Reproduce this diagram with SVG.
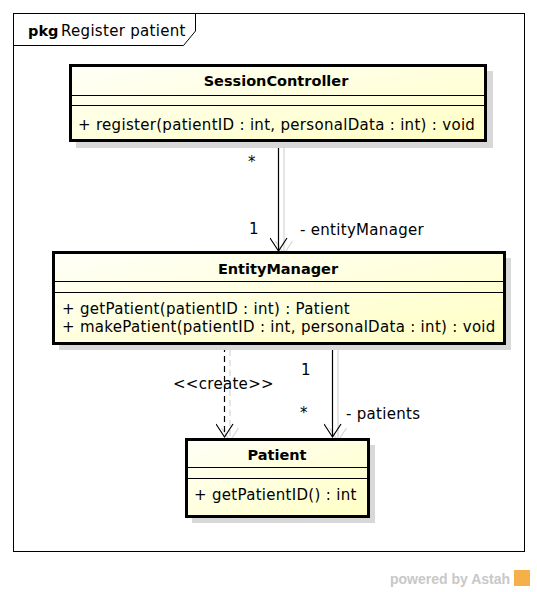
<svg xmlns="http://www.w3.org/2000/svg" width="537" height="592" viewBox="0 0 537 592">
<defs>
<linearGradient id="g" x1="0" y1="0" x2="1" y2="1">
<stop offset="0" stop-color="#fffff8"/>
<stop offset="1" stop-color="#ffffc4"/>
</linearGradient>
<marker id="open" viewBox="0 0 18 18" refX="15" refY="9" markerWidth="18" markerHeight="18" markerUnits="userSpaceOnUse" orient="auto">
<path d="M2,0.5 L15,9 L2,17.5" fill="none" stroke="#000" stroke-width="1.2"/>
</marker>
<marker id="openg" viewBox="0 0 18 18" refX="15" refY="9" markerWidth="18" markerHeight="18" markerUnits="userSpaceOnUse" orient="auto">
<path d="M2,0.5 L15,9 L2,17.5" fill="none" stroke="#d4d4d4" stroke-width="1.2"/>
</marker>
</defs>
<style>
text{font-family:"DejaVu Sans","Liberation Sans",sans-serif;font-size:15px;letter-spacing:0.3px;fill:#000}
.b{font-weight:bold;font-size:14.5px;letter-spacing:0}
.box{fill:url(#g);stroke:#000;stroke-width:3}
.sh{fill:#d8d8d8}
.ln{stroke:#000;stroke-width:1}
.ed{stroke:#000;stroke-width:1.2;fill:none}
.eg{stroke:#d4d4d4;stroke-width:1.2;fill:none}
</style>
<rect width="537" height="592" fill="#fff"/>
<g id="frame">
<rect x="13.5" y="13.5" width="511" height="538" fill="none" stroke="#000" stroke-width="1"/>
<path d="M13.5,45.5 H183.5 L195.5,31 V13.5" fill="none" stroke="#000" stroke-width="1"/>
<text x="28" y="36" class="b">pkg</text>
<text x="61" y="36">Register patient</text>
</g>
<g id="connectors">
<line x1="284" y1="146" x2="284" y2="254" class="eg" marker-end="url(#openg)"/>
<line x1="278.5" y1="142" x2="278.5" y2="251" class="ed" marker-end="url(#open)"/>
<line x1="230" y1="350" x2="230" y2="441" class="eg" stroke-dasharray="6,4" marker-end="url(#openg)"/>
<line x1="224.5" y1="346" x2="224.5" y2="437" class="ed" stroke-dasharray="6,4" marker-end="url(#open)"/>
<line x1="338" y1="350" x2="338" y2="441" class="eg" marker-end="url(#openg)"/>
<line x1="332.5" y1="346" x2="332.5" y2="437" class="ed" marker-end="url(#open)"/>
<text x="248" y="167">*</text>
<text x="249" y="234">1</text>
<text x="300" y="235">- entityManager</text>
<text x="173" y="389">&lt;&lt;create&gt;&gt;</text>
<text x="301" y="375">1</text>
<text x="300" y="418">*</text>
<text x="346" y="419">- patients</text>
</g>
<g id="SessionController">
<rect x="76" y="71" width="417" height="77" class="sh"/>
<rect x="70.5" y="65.5" width="415" height="75" class="box"/>
<line x1="70" y1="95.5" x2="486" y2="95.5" class="ln"/>
<line x1="70" y1="105.5" x2="486" y2="105.5" class="ln"/>
<text x="276" y="86" class="b" text-anchor="middle">SessionController</text>
<text x="78" y="130">+ register(patientID : int, personalData : int) : void</text>
</g>
<g id="EntityManager">
<rect x="59" y="258" width="452" height="92" class="sh"/>
<rect x="53.5" y="252.5" width="451" height="91" class="box"/>
<line x1="53" y1="281.5" x2="505" y2="281.5" class="ln"/>
<line x1="53" y1="292.5" x2="505" y2="292.5" class="ln"/>
<text x="278" y="274" class="b" text-anchor="middle">EntityManager</text>
<text x="62" y="314">+ getPatient(patientID : int) : Patient</text>
<text x="62" y="332">+ makePatient(patientID : int, personalData : int) : void</text>
</g>
<g id="Patient">
<rect x="192" y="445" width="183" height="78" class="sh"/>
<rect x="186.5" y="439.5" width="182" height="77" class="box"/>
<line x1="186" y1="467.5" x2="369" y2="467.5" class="ln"/>
<line x1="186" y1="478.5" x2="369" y2="478.5" class="ln"/>
<text x="277" y="460" class="b" text-anchor="middle">Patient</text>
<text x="194" y="500">+ getPatientID() : int</text>
</g>
<g id="watermark">
<text x="390" y="584" style="font-family:'Liberation Sans',Arial,sans-serif;font-size:14px;letter-spacing:0;font-weight:bold;fill:#c8c8c8">powered by Astah</text>
<rect x="514" y="570" width="16" height="16" fill="#f5b04a"/>
</g>
</svg>
